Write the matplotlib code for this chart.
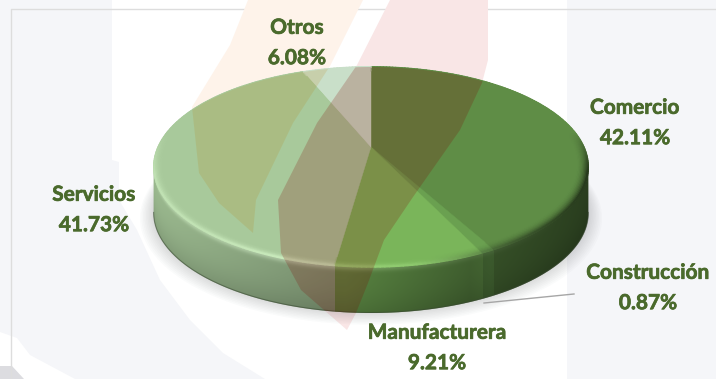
import numpy as np
import matplotlib
matplotlib.use('Agg')
import matplotlib.pyplot as plt
import matplotlib.patheffects as pe
from matplotlib.collections import LineCollection
from matplotlib.patches import Polygon, Rectangle
from matplotlib.colors import to_rgb

plt.rcParams['font.family'] = ['Lato', 'DejaVu Sans']

# Shares by sector, clockwise from twelve o'clock
sectors = ['Comercio', 'Construcción', 'Manufacturera', 'Servicios', 'Otros']
shares = [42.11, 0.87, 9.21, 41.73, 6.08]
slice_colors = ['#5f8d46', '#6aa050', '#7ab55a', '#a8c99b', '#c9dfc9']
label_xy = [(635, 123), (648, 288), (437, 348), (94, 210), (297, 43)]

# Disc geometry in pixels
CX, RX, DEPTH = 371, 213, 46
TILT = 0.2


def project(angle, drop=0.0, scale=1.0):
    """Map a clockwise angle on the flat disc to screen pixels."""
    u = scale * np.sin(angle)
    v = scale * np.cos(angle)
    den = 1 + TILT * v
    return CX + RX * u / den, (147 - 66.6 * v) / den + drop


def wall_shade(x):
    """Side wall brightness, lit from the left."""
    return np.interp(x, [153, 330, 345, 470, 490, 590], [0.92, 0.72, 0.72, 0.52, 0.56, 0.44])


def lit_amount(x):
    return np.interp(x, [153, 200, 300, 340, 470, 560], [0.7, 0.75, 1.0, 0.9, 0.3, 0.0])


def dark_amount(x):
    return np.interp(x, [420, 520, 590], [0.0, 0.4, 0.6])


def slice_at(angle):
    return np.clip(np.searchsorted(edges, angle) - 1, 0, len(shares) - 1)


fig = plt.figure(figsize=(7.16, 3.79), dpi=100)
ax = fig.add_axes([0, 0, 1, 1])
ax.axis('off')

# Page background: pale side panels with a diagonal cut on the left
ax.add_patch(Rectangle((0, 0), 716, 379, fc='white', ec='none', zorder=0))
left_panel = [(0, 0), (112, 0), (112, 160), (119, 162), (119, 200), (137, 230), (160, 280),
              (190, 320), (223, 353), (265, 379), (0, 379)]
ax.add_patch(Polygon(left_panel, fc='#f5f6f9', ec='none', zorder=0.1))
ax.add_patch(Rectangle((567, 0), 149, 379, fc='#f5f6f9', ec='none', zorder=0.1))
ax.add_patch(Polygon([(0, 332), (17, 338), (30, 355), (75, 379), (0, 379)], fc='white', ec='none', zorder=0.2))
ax.add_patch(Polygon([(0, 366), (12, 366), (24, 379), (0, 379)], fc='#dcdce0', ec='none', zorder=0.3))
ax.plot([716, 11, 11], [9, 9, 379], color='#dddddd', lw=1, zorder=0.4)

# Watermark bands
orange_band = [(248, 0), (230, 45), (192, 107), (199, 173), (219, 203), (253, 233), (256, 200),
               (293, 123), (330, 66), (363, 0)]
red_band = [(390, 0), (357, 65), (317, 123), (278, 200), (281, 253), (301, 290), (347, 330),
            (356, 313), (368, 283), (384, 240), (413, 197), (460, 130), (482, 83), (488, 60), (488, 0)]
ax.add_patch(Polygon(orange_band, fc='#fef3ea', ec='none', zorder=0.5))
ax.add_patch(Polygon(red_band, fc='#f9e6e6', ec='none', zorder=0.5))

# Soft shadow under the disc
ring = np.linspace(0, 2 * np.pi, 240)
for grow in np.linspace(1.06, 1.0, 10):
    xs, ys = project(ring, DEPTH - 1 + 60 * (grow - 1), grow)
    ax.fill(xs, ys, color='#50555c', alpha=0.022, lw=0, zorder=1)

edges = np.radians(np.cumsum([0] + shares) * 3.6)

# Outline of disc and wall together
front = np.radians(np.linspace(101.5, 258.5, 200))
back = np.radians(np.linspace(258.5, 461.5, 240))
front_x, front_y = project(front)
back_x, back_y = project(back)
outline = list(zip(front_x, front_y + DEPTH)) + list(zip(back_x, back_y))
body = Polygon(outline, fc='none', ec='none')
ax.add_patch(body)

# Side wall as a shaded image clipped to the outline
gx = np.arange(150, 594)
gy = np.arange(150, 322)
col_angle = np.interp(gx, front_x[::-1], front[::-1])
col_top = project(col_angle)[1]
wall = np.zeros((len(gy), len(gx), 3))
for j, x in enumerate(gx):
    base = np.array(to_rgb(slice_colors[slice_at(col_angle[j])])) * wall_shade(x)
    dy = (gy - col_top[j]) / DEPTH
    fade = 1 - 0.14 * np.clip(dy, 0, 1) ** 2
    glow = np.exp(-(np.maximum(gy - col_top[j], 0) / 3.5) ** 2) * lit_amount(x) * 0.16
    wall[:, j] = np.clip(np.outer(fade, base) + glow[:, None], 0, 1)
wall_img = ax.imshow(wall, extent=(150, 594, 322, 150), aspect='auto', interpolation='bilinear', zorder=2)
wall_img.set_clip_path(body)

# Top face
for start, stop, color in zip(edges[:-1], edges[1:], slice_colors):
    xs, ys = project(np.linspace(start, stop, 80))
    ax.add_patch(Polygon(list(zip(xs, ys)) + [(CX, 147)], fc=color, ec=color, lw=0.3, zorder=3))

# Rim bevel, built up from thin rings
rim = np.radians(np.linspace(0, 360, 361))
mids = (rim[:-1] + rim[1:]) / 2
for s in np.linspace(0.95, 0.998, 10):
    t = (s - 0.95) / 0.048
    rx, ry = project(rim, 0, s)
    segments = np.stack([np.column_stack([rx[:-1], ry[:-1]]), np.column_stack([rx[1:], ry[1:]])], axis=1)
    colors = []
    for a, x in zip(mids, rx[:-1]):
        base = np.array(to_rgb(slice_colors[slice_at(a)]))
        weight = np.clip((0.15 - np.cos(a)) / 0.4, 0, 1)
        colors.append(np.clip(base * (1 - weight * dark_amount(x) * t ** 2) + weight * lit_amount(x) * 0.13 * t ** 3, 0, 1))
    ax.add_collection(LineCollection(segments, colors=colors, linewidths=1.5, capstyle='round', zorder=3.5))

# Thin dark seam along the foot of the wall
ax.plot(front_x, front_y + DEPTH - 0.5, color='#3a4a33', lw=0.8, alpha=0.55, zorder=3.6)

# Bands show through the disc as a tint
for band, tint, alpha in zip([orange_band, red_band], [(188 / 255, 120 / 255, 0), (130 / 255, 0, 0)], [0.15, 0.2]):
    patch = Polygon(band, fc=tint, ec='none', alpha=alpha, zorder=4)
    ax.add_patch(patch)
    patch.set_clip_path(body)

# Leader line for the thin slice
ax.plot([484, 574], [303, 294], color='#a6a6a6', lw=1, zorder=5)

for name, share, (x, y) in zip(sectors, shares, label_xy):
    label = ax.text(x, y, f'{name}\n{share:.2f}%', ha='center', va='center', fontsize=15,
                    fontweight='bold', color='#4a6a2c', linespacing=1.65, zorder=6)
    label.set_path_effects([pe.withStroke(linewidth=0.5, foreground='#4a6a2c')])

ax.set_xlim(0, 716)
ax.set_ylim(379, 0)

fig.savefig('out.png', dpi=100)
